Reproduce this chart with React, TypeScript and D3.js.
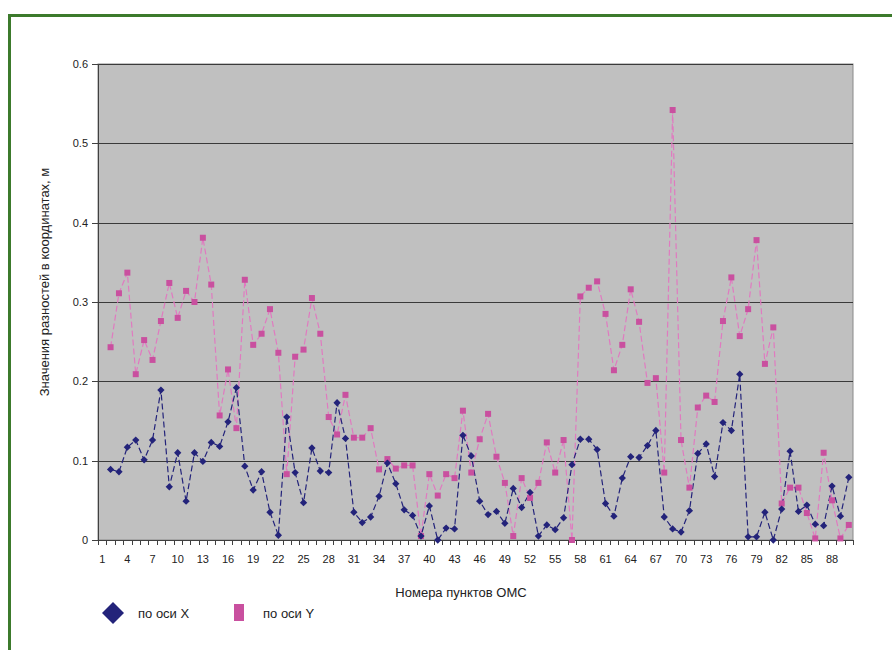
import React from "react";
import * as d3 from "d3";

// Categories 1..90 (point numbers); series start at point 2
const categories: number[] = Array.from({ length: 90 }, (_, i) => i + 1);
const tickLabels: number[] = [1, 4, 7, 10, 13, 16, 19, 22, 25, 28, 31, 34, 37, 40, 43, 46, 49, 52, 55, 58, 61, 64, 67, 70, 73, 76, 79, 82, 85, 88];
const yTicks: number[] = [0, 0.1, 0.2, 0.3, 0.4, 0.5, 0.6];

// по оси X (points 2..90)
const seriesX: number[] = [
  0.089, 0.086, 0.117, 0.126, 0.101, 0.126, 0.189, 0.067, 0.110, 0.049,
  0.110, 0.099, 0.123, 0.118, 0.149, 0.192, 0.093, 0.063, 0.086, 0.035,
  0.006, 0.155, 0.085, 0.047, 0.116, 0.087, 0.085, 0.173, 0.128, 0.035,
  0.022, 0.029, 0.055, 0.097, 0.071, 0.038, 0.031, 0.005, 0.043, 0.0,
  0.015, 0.014, 0.132, 0.106, 0.049, 0.032, 0.036, 0.021, 0.065, 0.041,
  0.060, 0.005, 0.019, 0.013, 0.028, 0.095, 0.127, 0.127, 0.114, 0.046,
  0.030, 0.078, 0.105, 0.104, 0.119, 0.138, 0.029, 0.014, 0.010, 0.037,
  0.109, 0.121, 0.080, 0.148, 0.138, 0.209, 0.004, 0.004, 0.035, 0.0,
  0.039, 0.112, 0.036, 0.044, 0.020, 0.018, 0.068, 0.030, 0.079,
];
// по оси Y (points 2..90)
const seriesY: number[] = [
  0.243, 0.311, 0.337, 0.209, 0.252, 0.227, 0.276, 0.324, 0.280, 0.314,
  0.300, 0.381, 0.322, 0.157, 0.215, 0.141, 0.328, 0.246, 0.260, 0.291,
  0.236, 0.083, 0.231, 0.240, 0.305, 0.260, 0.155, 0.133, 0.183, 0.129,
  0.129, 0.141, 0.089, 0.102, 0.090, 0.094, 0.094, 0.005, 0.083, 0.056,
  0.083, 0.078, 0.163, 0.085, 0.127, 0.159, 0.105, 0.072, 0.005, 0.078,
  0.053, 0.072, 0.123, 0.085, 0.126, 0.0, 0.307, 0.318, 0.326, 0.285,
  0.214, 0.246, 0.316, 0.275, 0.198, 0.204, 0.085, 0.542, 0.126, 0.066,
  0.167, 0.182, 0.174, 0.276, 0.331, 0.257, 0.291, 0.378, 0.222, 0.268,
  0.046, 0.066, 0.066, 0.034, 0.002, 0.110, 0.050, 0.002, 0.019,
];
const seriesStart = 2;

const W = 892;
const H = 650;
const left = 98;
const right = 853;
const top = 64;
const bottom = 540;
const FONT = "Liberation Sans, Arial, sans-serif";

export default function App() {
  const x = d3.scaleBand<number>().domain(categories).range([left, right]).paddingInner(0).paddingOuter(0);
  const y = d3.scaleLinear().domain([0, 0.6]).range([bottom, top]);
  const cx = (c: number) => (x(c) as number) + x.bandwidth() / 2;

  const ptsX = seriesX.map((v, i) => ({ c: i + seriesStart, v }));
  const ptsY = seriesY.map((v, i) => ({ c: i + seriesStart, v }));
  const line = d3
    .line<{ c: number; v: number }>()
    .x((d) => cx(d.c))
    .y((d) => y(d.v));

  const blue = "#23237a";
  const pinkMarker = "#c9509f";
  const pinkLine = "#e07ac0";
  const diamond = d3.symbol().type(d3.symbolDiamond2).size(34)() as string;

  const boundaries = [...categories.map((c) => x(c) as number), right];

  return (
    <svg width={W} height={H} style={{ position: "absolute", left: 0, top: 0, background: "#fff" }}>
      {/* green frame */}
      <path d={`M9.5,${H + 5} L9.5,15.5 L${W + 5},15.5`} fill="none" stroke="#3c7a2c" strokeWidth={3} />

      {/* plot area */}
      <rect x={left} y={top} width={right - left} height={bottom - top} fill="#c0c0c0" stroke="#8a8a8a" strokeWidth={1} />

      {/* gridlines */}
      {yTicks.filter((t) => t > 0).map((t) => (
        <line key={"g" + t} x1={left} x2={right} y1={Math.round(y(t)) + 0.5} y2={Math.round(y(t)) + 0.5} stroke="#3a3a3a" strokeWidth={1} />
      ))}

      {/* y axis */}
      <line x1={left + 0.5} x2={left + 0.5} y1={top} y2={bottom} stroke="#404040" strokeWidth={1} />
      {yTicks.map((t) => (
        <g key={"yt" + t}>
          <line x1={left - 6} x2={left} y1={Math.round(y(t)) + 0.5} y2={Math.round(y(t)) + 0.5} stroke="#404040" />
          <text x={left - 10} y={y(t)} dy="0.35em" textAnchor="end" fontSize={11} fontFamily={FONT} fill="#222">
            {t === 0 ? "0" : t.toFixed(1)}
          </text>
        </g>
      ))}

      {/* x axis */}
      <line x1={left} x2={right} y1={bottom + 0.5} y2={bottom + 0.5} stroke="#404040" strokeWidth={1} />
      {boundaries.map((bx, i) => (
        <line key={"xt" + i} x1={Math.round(bx) + 0.5} x2={Math.round(bx) + 0.5} y1={bottom} y2={bottom + 5} stroke="#404040" />
      ))}
      {tickLabels.map((c) => (
        <text key={"xl" + c} x={cx(c)} y={563} textAnchor="middle" fontSize={11} fontFamily={FONT} fill="#222">
          {c}
        </text>
      ))}

      {/* series lines */}
      <path d={line(ptsY) as string} fill="none" stroke={pinkLine} strokeWidth={1.2} strokeDasharray="6,3" />
      <path d={line(ptsX) as string} fill="none" stroke={blue} strokeWidth={1.2} strokeDasharray="6,3" />

      {/* markers */}
      {ptsY.map((d) => (
        <rect key={"my" + d.c} x={cx(d.c) - 3} y={y(d.v) - 3} width={6} height={6} fill={pinkMarker} />
      ))}
      {ptsX.map((d) => (
        <path key={"mx" + d.c} d={diamond} transform={`translate(${cx(d.c)},${y(d.v)})`} fill={blue} />
      ))}

      {/* axis titles */}
      <text x={461} y={597} textAnchor="middle" fontSize={13} fontFamily={FONT} fill="#222">
        Номера пунктов ОМС
      </text>
      <text transform="translate(49,282) rotate(-90)" textAnchor="middle" fontSize={13} fontFamily={FONT} fill="#222">
        Значения разностей в координатах, м
      </text>

      {/* legend */}
      <path d="M113,602 L124,613 L113,624 L102,613 Z" fill={blue} />
      <text x={138} y={613} dy="0.35em" fontSize={13} fontFamily={FONT} fill="#222">по оси X</text>
      <rect x={234} y={604} width={10} height={17} fill={pinkMarker} />
      <text x={263} y={613} dy="0.35em" fontSize={13} fontFamily={FONT} fill="#222">по оси Y</text>
    </svg>
  );
}
